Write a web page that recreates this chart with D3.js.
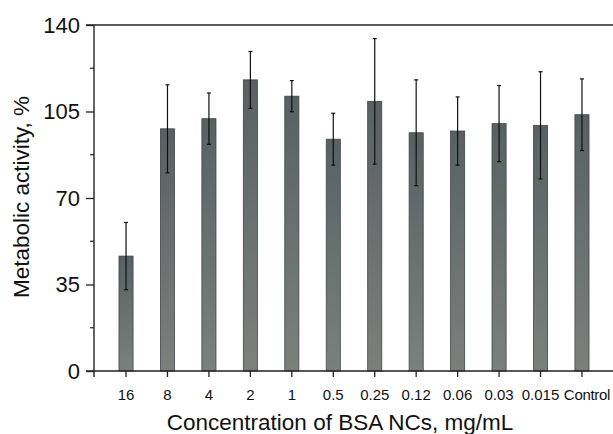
<!DOCTYPE html>
<html>
<head>
<meta charset="utf-8">
<script src="https://cdn.jsdelivr.net/npm/d3@7"></script>
<style>
  body { margin: 0; background: #fff; }
  svg { display: block; font-family: Arial, "Liberation Sans", sans-serif; }
</style>
</head>
<body>
<svg id="chart" width="613" height="434"></svg>
<script>
const categories = ["16", "8", "4", "2", "1", "0.5", "0.25", "0.12", "0.06", "0.03", "0.015", "Control"];
const values = [46.5, 98, 102.1, 117.8, 111.2, 93.8, 109.1, 96.4, 97.1, 100.1, 99.4, 103.7];
const errors = [13.6, 17.8, 10.4, 11.5, 6.3, 10.5, 25.4, 21.4, 13.8, 15.4, 21.7, 14.5];
const yTicks = [0, 35, 70, 105, 140];
const yMinorTicks = [17.5, 52.5, 87.5, 122.5];

(function () {
const svg = d3.select("#chart");
const mLeft = 94, mTop = 25, mBottom = 371;

const y = d3.scaleLinear().domain([0, 140]).range([mBottom, mTop]);
const x = d3.scaleBand().domain(categories).range([105.3, 602.7])
  .paddingInner(0.66).paddingOuter(0.33);

// gradient
const defs = svg.append("defs");
const grad = defs.append("linearGradient").attr("id", "barGrad")
  .attr("x1", 0).attr("y1", 0).attr("x2", 0).attr("y2", 1);
grad.append("stop").attr("offset", "0%").attr("stop-color", "#586161");
grad.append("stop").attr("offset", "100%").attr("stop-color", "#7c807d");

// bars
svg.append("g").selectAll("rect").data(categories).join("rect")
  .attr("x", d => x(d))
  .attr("width", x.bandwidth())
  .attr("y", (d, i) => y(values[i]))
  .attr("height", (d, i) => y(0) - y(values[i]))
  .attr("fill", "url(#barGrad)")
  .attr("stroke", "#3f4646")
  .attr("stroke-width", 0.8);

// error bars
const eg = svg.append("g").attr("stroke", "#111").attr("stroke-width", 1.2);
categories.forEach((c, i) => {
  const cx = x(c) + x.bandwidth() / 2;
  const y1 = y(values[i] + errors[i]);
  const y2 = y(values[i] - errors[i]);
  eg.append("line").attr("x1", cx).attr("x2", cx).attr("y1", y1).attr("y2", y2);
  eg.append("line").attr("x1", cx - 2).attr("x2", cx + 2).attr("y1", y1).attr("y2", y1);
  eg.append("line").attr("x1", cx - 2).attr("x2", cx + 2).attr("y1", y2).attr("y2", y2);
});

// top frame line
svg.append("line").attr("x1", mLeft - 8).attr("x2", 613).attr("y1", mTop).attr("y2", mTop)
  .attr("stroke", "#222").attr("stroke-width", 1.3);

// y axis
const yAxis = svg.append("g").attr("transform", `translate(${mLeft},0)`)
  .call(d3.axisLeft(y).tickValues(yTicks).tickSize(8).tickPadding(6));
yAxis.select(".domain").remove();
yAxis.attr("font-size", null).attr("font-family", null);
yAxis.selectAll(".tick line").attr("stroke", "#222").attr("stroke-width", 1.3);
yAxis.selectAll(".tick text").style("font-size", "22px").attr("fill", "#111");
svg.append("g").selectAll("line").data(yMinorTicks).join("line")
  .attr("x1", mLeft - 4).attr("x2", mLeft).attr("y1", d => y(d)).attr("y2", d => y(d))
  .attr("stroke", "#222").attr("stroke-width", 1.2);
svg.append("line").attr("x1", mLeft).attr("x2", mLeft).attr("y1", mTop).attr("y2", mBottom + 6)
  .attr("stroke", "#222").attr("stroke-width", 1.4);

// x axis
const xAxis = svg.append("g").attr("transform", `translate(0,${mBottom})`)
  .call(d3.axisBottom(x).tickSize(6).tickPadding(6));
xAxis.select(".domain").remove();
xAxis.attr("font-size", null).attr("font-family", null);
xAxis.selectAll(".tick line").attr("stroke", "#222").attr("stroke-width", 1.3);
xAxis.selectAll(".tick text").style("font-size", "15px").attr("fill", "#111")
  .attr("y", 18).attr("dy", "0.71em");
xAxis.selectAll(".tick text").filter(d => d === "Control")
  .attr("letter-spacing", "-0.3px").attr("dx", 5);
svg.append("line").attr("x1", mLeft - 8).attr("x2", 613).attr("y1", mBottom).attr("y2", mBottom)
  .attr("stroke", "#222").attr("stroke-width", 1.4);

// axis titles
svg.append("text").attr("x", 340).attr("y", 430).attr("text-anchor", "middle")
  .style("font-size", "22.5px").attr("fill", "#111").text("Concentration of BSA NCs, mg/mL");
svg.append("text").attr("transform", "translate(29,197) rotate(-90)")
  .attr("text-anchor", "middle").style("font-size", "22.5px").attr("fill", "#111")
  .text("Metabolic activity, %");
})();
</script>
</body>
</html>
